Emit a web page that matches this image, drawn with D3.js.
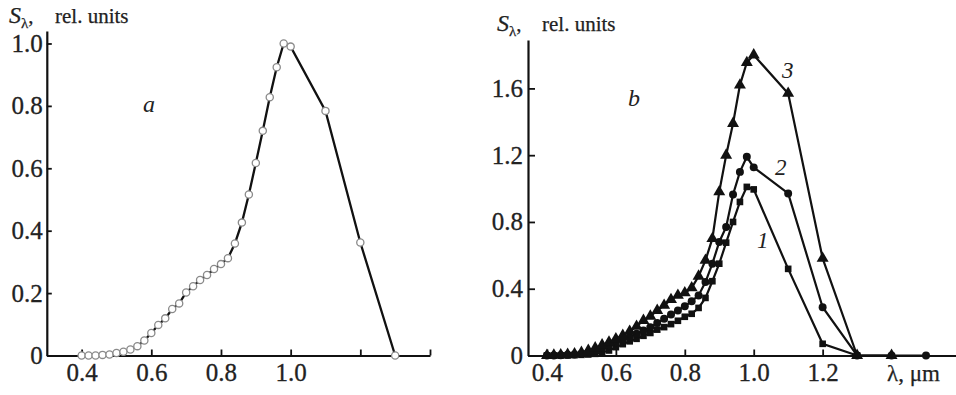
<!DOCTYPE html>
<html>
<head>
<meta charset="utf-8">
<script src="https://cdn.jsdelivr.net/npm/d3@7"></script>
<style>
  html, body { margin: 0; padding: 0; background: #fff; }
  svg, svg text { font-family: "Liberation Serif", "Times New Roman", Times, serif; }
</style>
</head>
<body>
<svg id="chart" width="956" height="395"></svg>
<script>
// ---------- Panel a data ----------
const lambdaA = [0.40,0.42,0.44,0.46,0.48,0.50,0.52,0.54,0.56,0.58,0.60,0.62,0.64,0.66,0.68,0.70,0.72,0.74,0.76,0.78,0.80,0.82,0.84,0.86,0.88,0.90,0.92,0.94,0.96,0.98,1.00,1.10,1.20,1.30];
const sA = [0,0,0,0.002,0.003,0.008,0.012,0.019,0.030,0.048,0.072,0.098,0.119,0.149,0.167,0.202,0.222,0.242,0.258,0.277,0.293,0.312,0.359,0.426,0.516,0.617,0.720,0.828,0.924,1.000,0.990,0.784,0.362,0];
const xTicksA = [0.4,0.6,0.8,1.0,1.2,1.4];
const xTickLabelsA = ["0.4","0.6","0.8","1.0","",""];
const yTicksA = [0,0.2,0.4,0.6,0.8,1.0];
const yTickLabelsA = ["0","0.2","0.4","0.6","0.8","1.0"];

// ---------- Panel b data ----------
const lambdaB = [0.40,0.42,0.44,0.46,0.48,0.50,0.52,0.54,0.56,0.58,0.60,0.62,0.64,0.66,0.68,0.70,0.72,0.74,0.76,0.78,0.80,0.82,0.84,0.86,0.88,0.90,0.92,0.94,0.96,0.98,1.00,1.10,1.20,1.30,1.40,1.50];
const series1 = [0,0,0,0,0.002,0.004,0.006,0.010,0.018,0.030,0.050,0.068,0.085,0.100,0.118,0.135,0.155,0.170,0.188,0.208,0.232,0.250,0.285,0.345,0.445,0.550,0.676,0.800,0.920,1.010,0.995,0.519,0.070,0,null,null];
const series2 = [0,0,0.002,0.004,0.006,0.010,0.018,0.030,0.045,0.062,0.080,0.095,0.110,0.130,0.150,0.170,0.195,0.220,0.245,0.270,0.295,0.325,0.360,0.440,0.550,0.680,0.770,0.965,1.100,1.190,1.127,0.971,0.289,0,0,0];
const series3 = [0,0.002,0.004,0.006,0.010,0.018,0.030,0.045,0.063,0.080,0.100,0.120,0.145,0.175,0.210,0.235,0.270,0.300,0.335,0.360,0.375,0.405,0.475,0.570,0.700,0.980,1.200,1.390,1.620,1.755,1.800,1.570,0.582,0,0,null];
const seriesNames = ["1","2","3"];
const xTicksB = [0.4,0.6,0.8,1.0,1.2];
const xTickLabelsB = ["0.4","0.6","0.8","1.0","1.2"];
const yTicksB = [0,0.4,0.8,1.2,1.6];
const yTickLabelsB = ["0","0.4","0.8","1.2","1.6"];

const FONT = "'Liberation Serif', 'Times New Roman', Times, serif";
const svg = d3.select("#chart").attr("font-family", FONT);
const FS = 25;

// ---------- scales ----------
const xa = d3.scaleLinear().domain([0.3, 1.4]).range([46.8, 430]);
const ya = d3.scaleLinear().domain([0, 1.04]).range([355.5, 31]);
const xb = d3.scaleLinear().domain([0.345, 1.587]).range([528, 956]);
const yb = d3.scaleLinear().domain([0, 1.89]).range([355.5, 40]);

function styleAxis(g) {
  g.attr("font-family", FONT).attr("font-size", FS);
  g.select(".domain").attr("stroke", "#111").attr("stroke-width", 2.2);
  g.selectAll(".tick line").attr("stroke", "#111").attr("stroke-width", 1.8);
  g.selectAll(".tick text").attr("fill", "#222").attr("stroke", "#222").attr("stroke-width", 0.3)
    .style("font-size", FS + "px").style("font-family", FONT);
}

// ---------- Panel a axes ----------
svg.append("g").attr("transform", `translate(0,${ya(0)})`)
  .call(d3.axisBottom(xa).tickValues(xTicksA).tickSizeInner(-6).tickSizeOuter(0).tickPadding(8)
    .tickFormat((d, i) => xTickLabelsA[i]))
  .call(styleAxis);
svg.append("g").attr("transform", `translate(${xa(0.3)},0)`)
  .call(d3.axisLeft(ya).tickValues(yTicksA).tickSizeInner(-5).tickSizeOuter(0).tickPadding(4)
    .tickFormat((d, i) => yTickLabelsA[i]))
  .call(styleAxis);

// ---------- Panel b axes ----------
svg.append("g").attr("transform", `translate(0,${yb(0)})`)
  .call(d3.axisBottom(xb).tickValues(xTicksB).tickSizeInner(-6).tickSizeOuter(0).tickPadding(8)
    .tickFormat((d, i) => xTickLabelsB[i]))
  .call(styleAxis);
svg.append("g").attr("transform", `translate(${xb(0.345)},0)`)
  .call(d3.axisLeft(yb).tickValues(yTicksB).tickSizeInner(-7).tickSizeOuter(0).tickPadding(5)
    .tickFormat((d, i) => yTickLabelsB[i]))
  .call(styleAxis);

// ---------- Panel a curve ----------
const dataA = lambdaA.map((l, i) => ({ x: l, y: sA[i] }));
svg.append("path").datum(dataA)
  .attr("fill", "none").attr("stroke", "#111").attr("stroke-width", 2.3)
  .attr("d", d3.line().x(d => xa(d.x)).y(d => ya(d.y)));
svg.append("g").selectAll("circle").data(dataA).join("circle")
  .attr("cx", d => xa(d.x)).attr("cy", d => ya(d.y)).attr("r", 3.6)
  .attr("fill", "#fff").attr("stroke", "#8a8a8a").attr("stroke-width", 1.3);

// ---------- Panel b curves ----------
const allSeries = [series1, series2, series3];
const symbols = [d3.symbolSquare, d3.symbolCircle, d3.symbolTriangle];
const symSizes = [44, 50, 62];
allSeries.forEach((s, k) => {
  const data = lambdaB.map((l, i) => ({ x: l, y: s[i] })).filter(d => d.y !== null);
  svg.append("path").datum(data)
    .attr("fill", "none").attr("stroke", "#111").attr("stroke-width", 2.2)
    .attr("d", d3.line().x(d => xb(d.x)).y(d => yb(d.y)));
  svg.append("g").selectAll("path").data(data).join("path")
    .attr("transform", d => `translate(${xb(d.x)},${yb(d.y)})`)
    .attr("d", d3.symbol().type(symbols[k]).size(symSizes[k]))
    .attr("fill", "#111");
});

// ---------- texts ----------
function yLabel(x, y, xRel) {
  const t = svg.append("text").attr("x", x).attr("y", y).attr("fill", "#222")
    .attr("stroke", "#222").attr("stroke-width", 0.25)
    .style("font-size", "21px").style("font-family", FONT);
  t.append("tspan").style("font-style", "italic").style("font-size", "24px").text("S");
  t.append("tspan").attr("dy", 5).style("font-size", "15px").text("λ");
  t.append("tspan").attr("dy", -5).text(",");
  t.append("tspan").attr("x", xRel).text("rel. units");
}
yLabel(9, 23, 55);
yLabel(497, 31, 542);

svg.append("text").attr("x", 143).attr("y", 112).style("font-style", "italic")
  .style("font-size", "24px").style("font-family", FONT).attr("fill", "#222").text("a");
svg.append("text").attr("x", 628).attr("y", 106).style("font-style", "italic")
  .style("font-size", "24px").style("font-family", FONT).attr("fill", "#222").text("b");

const curveLabelPos = [[757, 248], [775, 175], [782, 78]];
seriesNames.forEach((n, i) => {
  svg.append("text").attr("x", curveLabelPos[i][0]).attr("y", curveLabelPos[i][1])
    .style("font-style", "italic").style("font-size", "23px").style("font-family", FONT)
    .attr("fill", "#222").text(n);
});
svg.append("text").attr("x", 887).attr("y", 381).style("font-size", "23px").style("font-family", FONT)
  .attr("fill", "#222").attr("stroke", "#222").attr("stroke-width", 0.25).text("λ, μm");
</script>
</body>
</html>
